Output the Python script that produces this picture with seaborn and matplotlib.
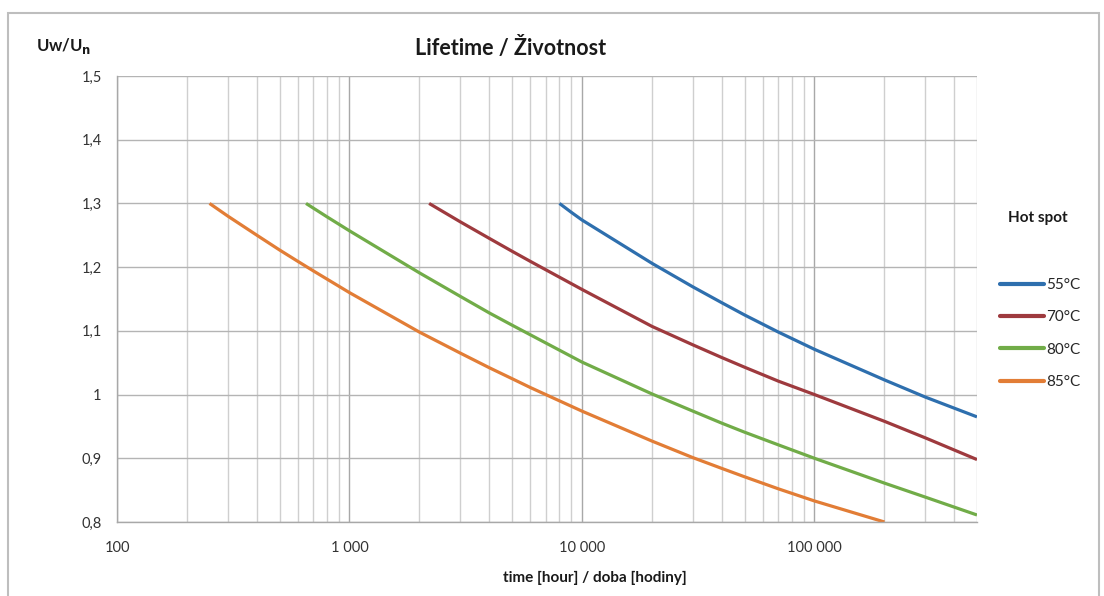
import matplotlib
matplotlib.use("Agg")
import matplotlib.pyplot as plt
import matplotlib.ticker as mticker
import pandas as pd
import seaborn as sns

# values (time in hours, Uw/Un)
t_55 = [8000, 9000, 10000, 20000, 30000, 40000, 50000, 70000, 100000, 200000, 300000, 500000]
u_55 = [1.300, 1.286, 1.274, 1.206, 1.169, 1.144, 1.125, 1.098, 1.071, 1.023, 0.996, 0.965]
t_70 = [2200, 3000, 4000, 5000, 6000, 10000, 20000, 30000, 40000, 50000, 70000, 100000,
        200000, 300000, 500000]
u_70 = [1.300, 1.271, 1.245, 1.225, 1.209, 1.165, 1.107, 1.078, 1.058, 1.043, 1.021, 1.000,
        0.958, 0.932, 0.898]
t_80 = [650, 800, 1000, 2000, 3000, 4000, 5000, 10000, 20000, 30000, 40000, 50000, 70000,
        100000, 200000, 300000, 500000]
u_80 = [1.300, 1.279, 1.257, 1.191, 1.154, 1.128, 1.109, 1.051, 1.001, 0.974, 0.955, 0.941,
        0.921, 0.900, 0.861, 0.839, 0.811]
t_85 = [250, 300, 400, 500, 600, 700, 1000, 2000, 3000, 4000, 5000, 6000, 10000, 20000,
        30000, 40000, 50000, 70000, 100000, 200000]
u_85 = [1.300, 1.280, 1.250, 1.227, 1.209, 1.194, 1.160, 1.098, 1.065, 1.042, 1.025, 1.011,
        0.974, 0.927, 0.901, 0.884, 0.871, 0.852, 0.833, 0.800]

labels = ["55°C", "70°C", "80°C", "85°C"]
colors = ["#2E6FAE", "#9E3A3E", "#71AC48", "#E27D36"]

y_ticks = [0.8, 0.9, 1.0, 1.1, 1.2, 1.3, 1.4, 1.5]
y_ticklabels = ["0,8", "0,9", "1", "1,1", "1,2", "1,3", "1,4", "1,5"]
x_ticks = [100, 1000, 10000, 100000]
x_ticklabels = ["100", "1 000", "10 000", "100 000"]

frames = []
for t, u, lab in zip([t_55, t_70, t_80, t_85], [u_55, u_70, u_80, u_85], labels):
    frames.append(pd.DataFrame({"time": t, "ratio": u, "hot": lab}))
df = pd.concat(frames, ignore_index=True)

sns.set_style("white")
plt.rcParams["font.family"] = ["Lato", "DejaVu Sans"]

fig = plt.figure(figsize=(11.04, 5.96), dpi=100)
ax = fig.add_axes([117 / 1104, 1 - 522 / 596, 860 / 1104, 446 / 596])

sns.lineplot(data=df, x="time", y="ratio", hue="hot", palette=colors,
             linewidth=2.3, ax=ax, legend=False, estimator=None, sort=True,
             solid_joinstyle="round", solid_capstyle="butt")

ax.set_xscale("log")
ax.set_xlim(100, 500000)
ax.set_ylim(0.8, 1.5)

ax.xaxis.set_minor_locator(mticker.LogLocator(base=10, subs=range(2, 10)))
ax.xaxis.set_minor_formatter(mticker.NullFormatter())
ax.set_xticks(x_ticks)
ax.set_xticklabels(x_ticklabels)
ax.set_yticks(y_ticks)
ax.set_yticklabels(y_ticklabels)

ax.grid(True, which="major", axis="x", color="#A8A8A8", linewidth=1.0)
ax.grid(True, which="minor", axis="x", color="#CFCFCF", linewidth=1.0)
ax.grid(True, which="major", axis="y", color="#B4B4B4", linewidth=1.0)
ax.set_axisbelow(True)

for s in ["top", "right"]:
    ax.spines[s].set_visible(False)
for s in ["left", "bottom"]:
    ax.spines[s].set_color("#A8A8A8")
    ax.spines[s].set_linewidth(1.0)

ax.tick_params(axis="both", which="major", direction="out", length=5,
               color="#A8A8A8", labelsize=10.5, labelcolor="#333333", pad=6)
ax.tick_params(axis="x", which="minor", length=0)
ax.tick_params(axis="x", which="major", pad=9)

ax.set_xlabel("")
ax.set_ylabel("")

fig.text(511 / 1104, 1 - 48 / 596, "Lifetime / Životnost", ha="center", va="center",
         fontsize=15.5, fontweight="bold", color="#1a1a1a")
fig.text(36 / 1104, 1 - 46 / 596, r"Uw/U$_{\mathbf{n}}$", ha="left", va="center",
         fontsize=12, fontweight="bold", color="#1a1a1a")
fig.text(595 / 1104, 1 - 578 / 596, "time [hour] / doba [hodiny]", ha="center", va="center",
         fontsize=11, fontweight="bold", color="#1a1a1a")
fig.text(1008 / 1104, 1 - 218 / 596, "Hot spot", ha="left", va="center",
         fontsize=11, fontweight="bold", color="#1a1a1a")

handles = [plt.Line2D([], [], color=c, linewidth=3) for c in colors]
fig.legend(handles, labels, loc="upper left", bbox_to_anchor=(1000 / 1104, 1 - 278 / 596),
           frameon=False, fontsize=11, handlelength=2.9, handletextpad=0.15,
           labelspacing=1.2, borderaxespad=0, borderpad=0)

border = plt.Rectangle((8 / 1104, -0.01), 1091 / 1104, 1 - 13 / 596 + 0.01,
                       transform=fig.transFigure, fill=False, edgecolor="#BEBEBE",
                       linewidth=1.5)
fig.patches.append(border)

fig.savefig("out.png", dpi=100)
